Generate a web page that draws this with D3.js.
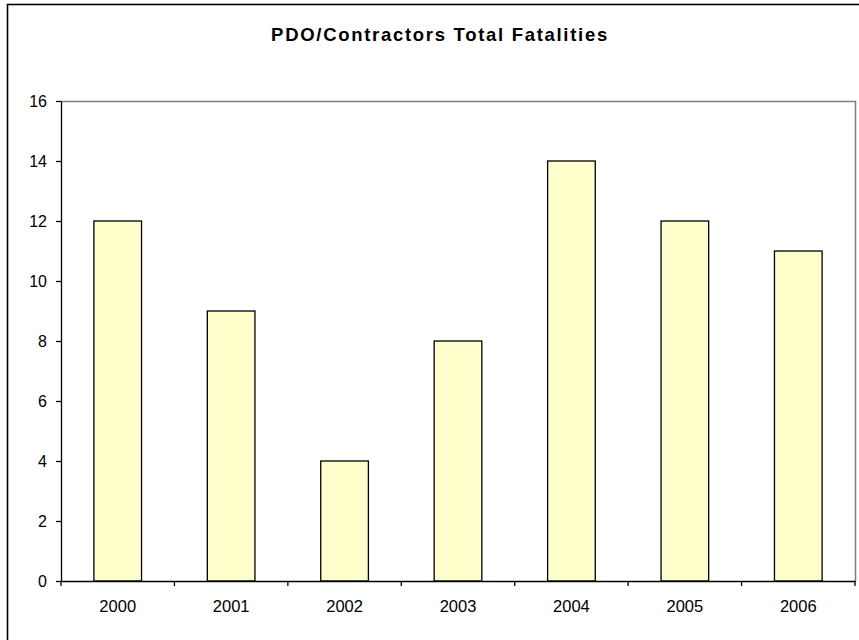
<!DOCTYPE html>
<html lang="en">
<head>
  <meta charset="UTF-8" />
  <title>PDO/Contractors Total Fatalities</title>
  <script src="https://d3js.org/d3.v7.min.js"></script>
  <style>
    body {
      margin: 0;
      background: #fff;
      font-family: "Liberation Sans", Arial, sans-serif;
    }
    .axis text {
      font-family: "Liberation Sans", Arial, sans-serif;
      fill: #000;
    }
    .bar {
      fill: #ffffcc;
      stroke: #000;
      stroke-width: 1.3px;
    }
  </style>
</head>
<body>
  <svg width="859" height="640"></svg>

  <script>
    const years = ["2000", "2001", "2002", "2003", "2004", "2005", "2006"];
    const fatalities = [12, 9, 4, 8, 14, 12, 11];
    const yTicks = [0, 2, 4, 6, 8, 10, 12, 14, 16];

    const data = years.map((year, i) => ({ year, value: fatalities[i] }));

    const svg = d3.select("svg");
    const plot = { left: 61, right: 855, top: 101, bottom: 581 };

    // outer chart border (runs off the right and bottom of the window)
    svg.append("rect")
      .attr("x", 7.5).attr("y", 4.5)
      .attr("width", 880).attr("height", 660)
      .attr("fill", "none")
      .attr("stroke", "#000")
      .attr("stroke-width", 1.6);

    svg.append("text")
      .attr("x", 440)
      .attr("y", 41)
      .attr("text-anchor", "middle")
      .style("font-size", "18.5px")
      .style("font-weight", "bold")
      .style("letter-spacing", "1.7px")
      .text("PDO/Contractors Total Fatalities");

    const x = d3.scaleBand().domain(years).range([plot.left, plot.right]).padding(0);
    const y = d3.scaleLinear().domain([0, 16]).range([plot.bottom, plot.top]);

    // plot area frame, grey on top and right
    svg.append("path")
      .attr("d", `M${plot.left},${plot.top + 0.5}H${plot.right + 0.5}V${plot.bottom}`)
      .attr("fill", "none")
      .attr("stroke", "#808080")
      .attr("stroke-width", 1.5);

    const barW = x.bandwidth() * 0.42;
    svg.selectAll("rect.bar")
      .data(data)
      .join("rect")
      .attr("class", "bar")
      .attr("x", d => x(d.year) + (x.bandwidth() - barW) / 2)
      .attr("y", d => y(d.value))
      .attr("width", barW)
      .attr("height", d => y(0) - y(d.value));

    const yAxis = svg.append("g")
      .attr("class", "axis")
      .attr("transform", `translate(${plot.left},0)`)
      .call(d3.axisLeft(y).tickValues(yTicks).tickSize(5).tickPadding(9).tickSizeOuter(0));
    yAxis.selectAll("text").style("font-size", "16px");
    yAxis.selectAll("line, path").attr("stroke", "#000").attr("stroke-width", 1.3);

    // x ticks sit on the category boundaries
    const xAxis = svg.append("g")
      .attr("class", "axis")
      .attr("transform", `translate(0,${plot.bottom})`)
      .call(d3.axisBottom(x).tickSize(0).tickPadding(19).tickSizeOuter(0));
    xAxis.selectAll("text").style("font-size", "16.5px");
    xAxis.select(".domain").attr("stroke", "#000").attr("stroke-width", 1.6);

    const bounds = years.map(yr => x(yr)).concat([plot.right]);
    xAxis.selectAll("line.bound")
      .data(bounds)
      .join("line")
      .attr("class", "bound")
      .attr("x1", d => d).attr("x2", d => d)
      .attr("y1", 0).attr("y2", 5)
      .attr("stroke", "#000")
      .attr("stroke-width", 1.3);
  </script>
</body>
</html>
